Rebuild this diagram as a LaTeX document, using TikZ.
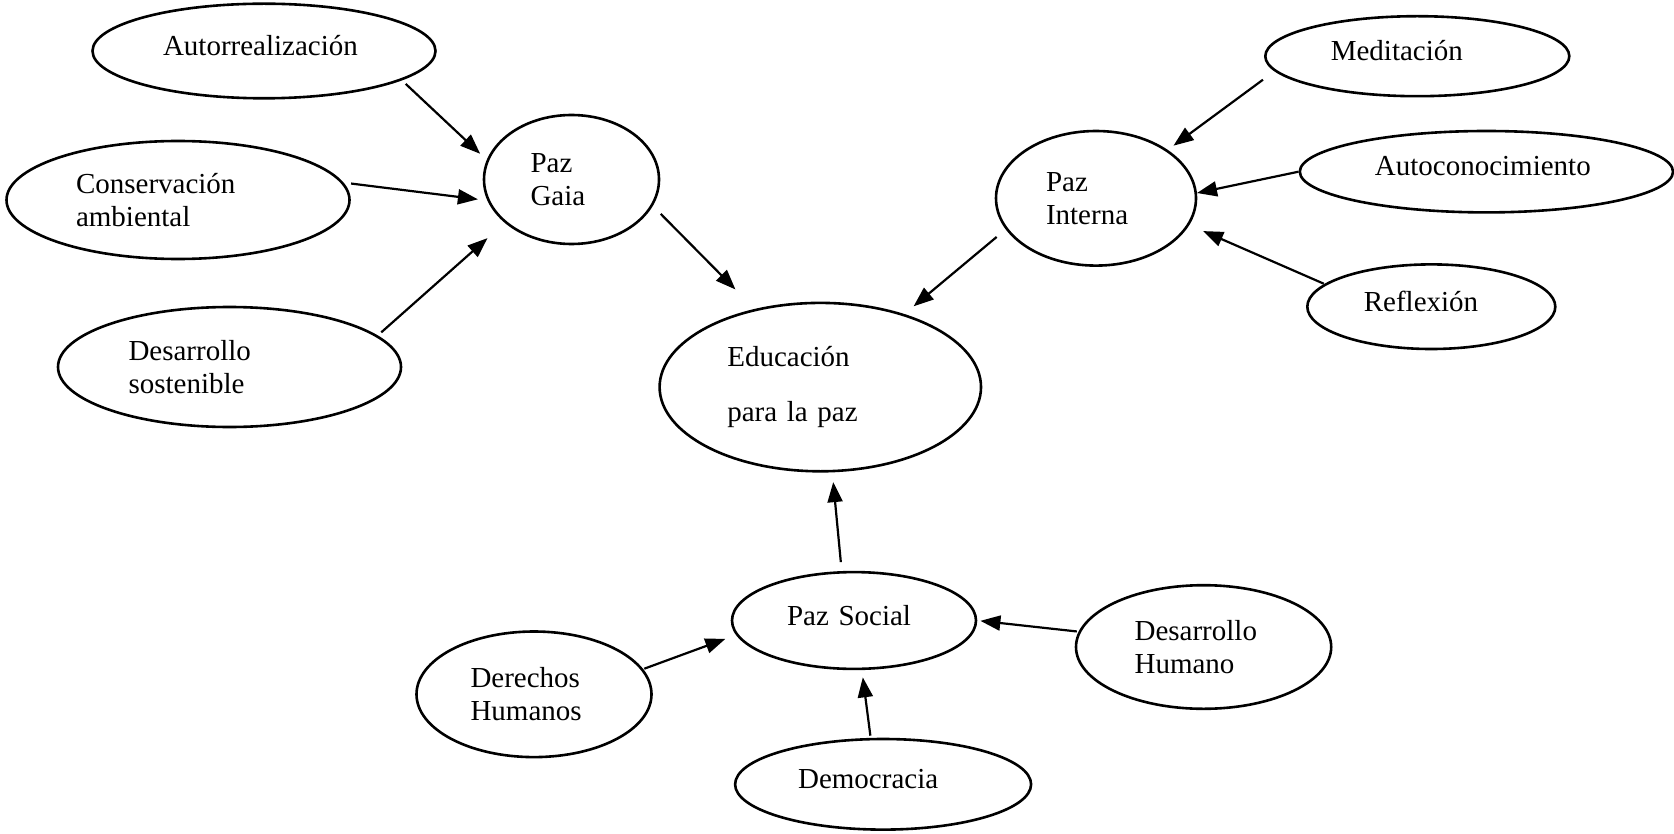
\documentclass[tikz,border=0pt]{standalone}
\usepackage{fontspec}
\setmainfont{Liberation Serif}
\usetikzlibrary{shapes.geometric,arrows.meta}

\begin{document}
\begin{tikzpicture}[x=0.5pt,y=-0.5pt]
\tikzstyle{oval}=[draw, ellipse, line width=1.3pt, inner sep=0pt, align=left, font=\fontsize{14.5}{16.6}\selectfont]
\tikzstyle{oneline}=[text depth=5.5pt]
\tikzstyle{arr}=[line width=1.1pt, -{Triangle[length=10pt,width=7.5pt]}]
\useasboundingbox (0,0) rectangle (1674,834);
% paz gaia side
\node[oval, oneline, minimum width=171.5pt, minimum height=47.3pt, text width=101pt] (autorr) at (264,51) {Autorrealización};
\node[oval, minimum width=171.5pt, minimum height=59pt, text width=102pt] (conserv) at (178,200) {Conservación\\ambiental};
\node[oval, minimum width=171.5pt, minimum height=60pt, text width=101pt] (dsost) at (229.5,367) {Desarrollo\\sostenible};
\node[oval, minimum width=87.5pt, minimum height=64.5pt, text width=41pt] (gaia) at (571.5,179.5) {Paz\\Gaia};
% centre
\node[oval, minimum width=160.7pt, minimum height=84.2pt, text width=93pt] (educ) at (820.3,387.1) {Educación\\[10.8pt]para la paz};
% paz interna side
\node[oval, minimum width=100pt, minimum height=67.3pt, text width=50pt] (interna) at (1096,198.3) {Paz\\Interna};
\node[oval, oneline, minimum width=152pt, minimum height=40pt, text width=86.5pt] (medit) at (1417.3,56.2) {Meditación};
\node[oval, oneline, minimum width=186.6pt, minimum height=40.7pt, text width=111.5pt] (autocon) at (1486.4,171.7) {Autoconocimiento};
\node[oval, oneline, minimum width=124pt, minimum height=42.3pt, text width=67.5pt] (reflex) at (1431.3,306.7) {Reflexión};
% paz social side
\node[oval, oneline, minimum width=122pt, minimum height=48.4pt, text width=67pt] (social) at (854,620.5) {Paz Social};
\node[oval, minimum width=127.6pt, minimum height=61.8pt, text width=69pt] (dhum) at (1203.6,647) {Desarrollo\\Humano};
\node[oval, minimum width=117.5pt, minimum height=62.8pt, text width=63.5pt] (derechos) at (534,694.3) {Derechos\\Humanos};
\node[oval, oneline, minimum width=148pt, minimum height=45.3pt, text width=85pt] (democ) at (883.1,784.3) {Democracia};
% arrows
\draw[arr, shorten <=2.65pt, shorten >=4.5pt] (autorr.-12.8) -- (gaia.167.7);
\draw[arr, shorten <=3.85pt, shorten >=4.75pt] (conserv.6.1) -- (gaia.194.6);
\draw[arr, shorten <=2.35pt, shorten >=11.5pt] (dsost.12.4) -- (gaia.213.5);
\draw[arr, shorten <=5.65pt, shorten >=13.7pt] (gaia.-18.9) -- (educ.130.1);
\draw[arr, shorten <=5.9pt, shorten >=6pt] (interna.199.4) -- (educ.41.5);
\draw[arr, shorten <=7.15pt, shorten >=3.55pt] (medit.186.6) -- (interna.34.3);
\draw[arr] (autocon.180) -- (interna.3.1);
\draw[arr, shorten <=0.35pt, shorten >=7.55pt] (reflex.168.9) -- (interna.-16.8);
\draw[arr, shorten <=4.5pt, shorten >=4.9pt] (social.104.5) -- (educ.-82);
\draw[arr, shorten <=0.9pt, shorten >=1.55pt] (dhum.173.2) -- (social.0);
\draw[arr, shorten <=0.55pt, shorten >=5.7pt] (derechos.13.4) -- (social.187.3);
\draw[arr, shorten <=1.1pt, shorten >=3.65pt] (democ.105.6) -- (social.-81.2);
\end{tikzpicture}
\end{document}
